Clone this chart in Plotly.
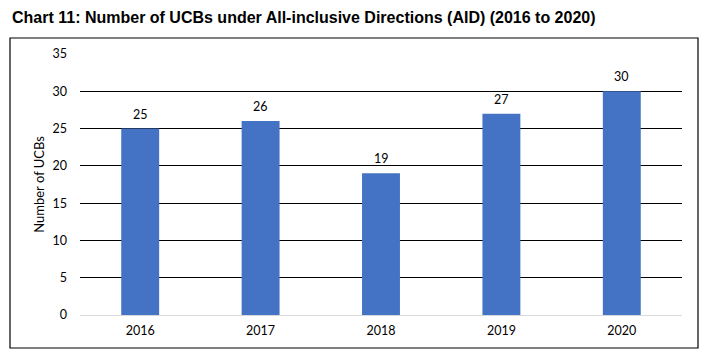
import plotly.graph_objects as go

years = ["2016", "2017", "2018", "2019", "2020"]
ucbs = [25, 26, 19, 27, 30]
y_ticks = [0, 5, 10, 15, 20, 25, 30, 35]

W, H = 708, 357
L, R, T, B = 80, 26, 54, 42
pw = W - L - R
ph = H - T - B

font = "Lato, Open Sans, sans-serif"

fig = go.Figure()
fig.add_trace(go.Bar(
    x=years, y=ucbs, width=0.315,
    marker=dict(color="#4472C4", line=dict(width=0)),
))

for i, v in enumerate(ucbs):
    fig.add_annotation(x=i, y=v, text=str(v), showarrow=False, yanchor="bottom",
                       yshift=5, font=dict(family=font, size=12.5, color="#000000"))

fig.update_layout(
    width=W, height=H,
    margin=dict(l=L, r=R, t=T, b=B, autoexpand=False),
    paper_bgcolor="white", plot_bgcolor="white",
    showlegend=False,
    title=dict(text="<b>Chart 11: Number of UCBs under All-inclusive Directions (AID) (2016 to 2020)</b>",
               x=12 / W, xanchor="left", y=1 - 17 / H, yanchor="middle",
               font=dict(family="Liberation Sans, Arial, sans-serif", size=16, color="#000000")),
    xaxis=dict(type="category", categoryorder="array", categoryarray=years,
               range=[-0.5, len(years) - 0.5],
               showgrid=False, showline=False, zeroline=False, ticks="",
               automargin=False, ticklabelstandoff=6,
               tickfont=dict(family=font, size=12.5, color="#000000")),
    yaxis=dict(range=[0, 35], tickvals=y_ticks, showgrid=True, gridcolor="#000000", gridwidth=1,
               zeroline=True, zerolinecolor="#D9D9D9", zerolinewidth=1, showline=False, ticks="",
               automargin=False, ticklabelstandoff=12,
               tickfont=dict(family=font, size=12.5, color="#000000"),
               title=dict(text="Number of UCBs", standoff=4,
                          font=dict(family=font, size=13, color="#000000"))),
)

fig.add_shape(type="rect", xref="paper", yref="paper",
              x0=(10 - L) / pw, x1=(698 - L) / pw,
              y0=(315 - 348) / ph, y1=(315 - 38) / ph,
              line=dict(color="#000000", width=1.2), fillcolor="rgba(0,0,0,0)", layer="above")

fig.write_html("out.html", config={"displayModeBar": False},
               post_script="document.body.style.margin='0';document.body.style.overflow='hidden';")
